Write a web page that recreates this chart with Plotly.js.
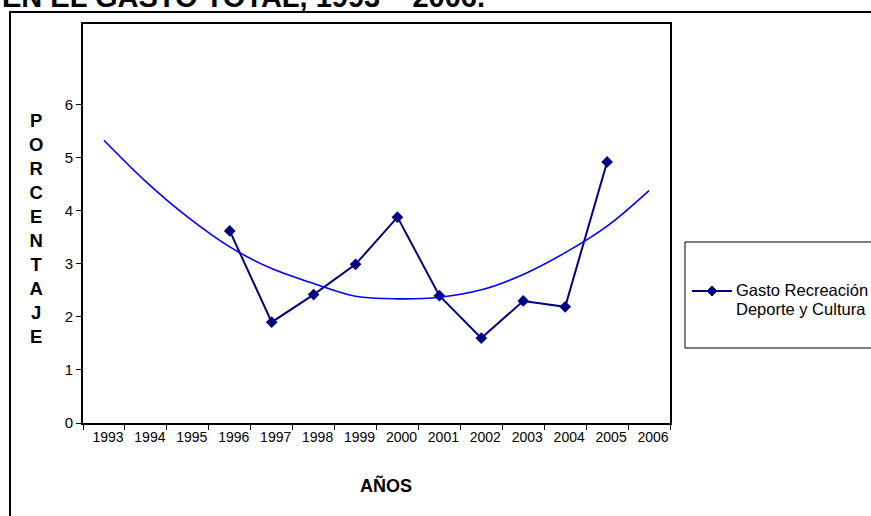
<!DOCTYPE html>
<html>
<head>
<meta charset="utf-8">
<script src="https://cdn.plot.ly/plotly-3.0.1.min.js"></script>
<style>html,body{margin:0;padding:0;background:#fff;}#chart{width:871px;height:516px;}</style>
</head>
<body>
<div id="chart"></div>
<script>
// Categories (years)
const years = ['1993','1994','1995','1996','1997','1998','1999','2000','2001','2002','2003','2004','2005','2006'];
// Series: Gasto Recreación Deporte y Cultura (%)
const seriesName = ['Gasto Recreación', 'Deporte y Cultura'];
const gastoYears = ['1996','1997','1998','1999','2000','2001','2002','2003','2004','2005'];
const gastoValues = [3.62, 1.90, 2.42, 2.99, 3.88, 2.40, 1.60, 2.30, 2.19, 4.92];
// Trend line (at each year)
const trendValues = [5.33, 4.55, 3.88, 3.32, 2.91, 2.63, 2.39, 2.34, 2.37, 2.51, 2.80, 3.21, 3.71, 4.38];
const yTicks = [0, 1, 2, 3, 4, 5, 6];

const FONT = 'Arial, "Liberation Sans", sans-serif';
const L = 83, R = 670, T = 24, B = 423, W = 871, H = 516;
const px = x => (x - L) / (R - L);
const py = y => (B - y) / (B - T);

const traces = [
  {
    x: gastoYears, y: gastoValues, type: 'scatter', mode: 'lines+markers',
    name: seriesName.join(' '),
    line: {color: '#000080', width: 2},
    marker: {symbol: 'diamond', size: 9, color: '#000080'}
  },
  {
    x: years, y: trendValues, type: 'scatter', mode: 'lines',
    line: {color: '#0000FF', width: 1.6, shape: 'spline'},
    hoverinfo: 'skip'
  }
];

// legend key geometry (pixels)
const kx = 712, ky = 291, kd = 5;
const diamondPath = `M ${px(kx - kd)} ${py(ky)} L ${px(kx)} ${py(ky - kd)} L ${px(kx + kd)} ${py(ky)} L ${px(kx)} ${py(ky + kd)} Z`;

const layout = {
  width: W, height: H,
  margin: {l: L, r: W - R, t: T, b: H - B},
  paper_bgcolor: '#fff', plot_bgcolor: '#fff',
  font: {family: FONT, color: '#000', size: 13},
  showlegend: false,
  xaxis: {
    type: 'category', categoryorder: 'array', categoryarray: years,
    range: [-0.5, 13.5], tickson: 'boundaries',
    ticks: 'outside', ticklen: 5, tickcolor: '#000', tickwidth: 1,
    showline: true, linecolor: '#000', linewidth: 2, mirror: true,
    showgrid: false, zeroline: false,
    tickfont: {family: FONT, size: 14}, ticklabelshift: 4
  },
  yaxis: {
    range: [0, 7.52], tickvals: yTicks, ticktext: yTicks.map(String),
    ticks: 'outside', ticklen: 5, tickcolor: '#000',
    showline: true, linecolor: '#000', linewidth: 2, mirror: true,
    showgrid: false, zeroline: false,
    tickfont: {family: FONT, size: 15}
  },
  shapes: [
    {type: 'rect', xref: 'paper', yref: 'paper', x0: px(10), x1: px(900), y0: py(600), y1: py(12),
     line: {color: '#000', width: 2}, fillcolor: 'rgba(0,0,0,0)', layer: 'below'},
    {type: 'rect', xref: 'paper', yref: 'paper', x0: px(685), x1: px(900), y0: py(348), y1: py(242),
     line: {color: '#000', width: 1}, fillcolor: 'rgba(0,0,0,0)'},
    {type: 'line', xref: 'paper', yref: 'paper', x0: px(692), x1: px(732), y0: py(ky), y1: py(ky),
     line: {color: '#000080', width: 2}},
    {type: 'path', xref: 'paper', yref: 'paper', path: diamondPath,
     fillcolor: '#000080', line: {color: '#000080', width: 1}}
  ],
  annotations: [
    {text: '<b>EN EL GASTO TOTAL, 1993 – 2006.</b>', xref: 'paper', yref: 'paper',
     x: px(0), y: py(15), xanchor: 'left', yanchor: 'bottom', showarrow: false,
     font: {family: FONT, size: 29, color: '#000'}},
    {text: '<b>P<br>O<br>R<br>C<br>E<br>N<br>T<br>A<br>J<br>E</b>', xref: 'paper', yref: 'paper',
     x: px(36), y: py(228), xanchor: 'center', yanchor: 'middle', showarrow: false,
     font: {family: FONT, size: 18.5, color: '#000'}},
    {text: '<b>AÑOS</b>', xref: 'paper', yref: 'paper',
     x: px(386), y: py(485), xanchor: 'center', yanchor: 'middle', showarrow: false,
     font: {family: FONT, size: 18, color: '#000'}},
    {text: seriesName[0], xref: 'paper', yref: 'paper',
     x: px(734), y: py(290), xanchor: 'left', yanchor: 'middle', showarrow: false,
     font: {family: FONT, size: 16.5, color: '#000'}},
    {text: seriesName[1], xref: 'paper', yref: 'paper',
     x: px(734), y: py(309), xanchor: 'left', yanchor: 'middle', showarrow: false,
     font: {family: FONT, size: 16.5, color: '#000'}}
  ]
};

Plotly.newPlot('chart', traces, layout, {staticPlot: true, displayModeBar: false});
</script>
</body>
</html>
